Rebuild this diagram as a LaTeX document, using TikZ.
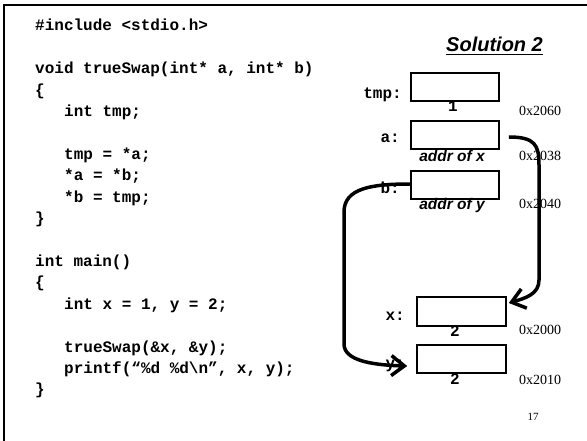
\documentclass[tikz,border=0pt]{standalone}
\usepackage{fontspec}
\setmainfont{Liberation Serif}
\setsansfont{Liberation Sans}
\setmonofont{Liberation Mono}
\usetikzlibrary{arrows.meta}
\tikzset{
  code/.style={font=\ttfamily\bfseries\fontsize{16}{19}\selectfont, anchor=base west, inner sep=0pt},
  lbl/.style={font=\ttfamily\bfseries\fontsize{16}{19}\selectfont, anchor=base east, inner sep=0pt},
  val/.style={font=\ttfamily\bfseries\fontsize{16}{19}\selectfont, anchor=base, inner sep=0pt},
  addrtxt/.style={font=\sffamily\bfseries\itshape\fontsize{15.5}{18}\selectfont, anchor=base, inner sep=0pt},
  hex/.style={font=\rmfamily\fontsize{14}{16}\selectfont, anchor=base west, inner sep=0pt},
  cell/.style={draw, line width=1.6pt, minimum width=88pt, minimum height=28pt, inner sep=0pt},
  ptr/.style={line width=3.5pt, -{Straight Barb[length=13pt,width=20pt]}},
}
\begin{document}
\begin{tikzpicture}[x=1pt,y=-1pt]
\useasboundingbox (0,0) rectangle (587,441);
\fill[white] (0,0) rectangle (587,441);
% frame
\coordinate (fr1) at (587,5);
\coordinate (fr2) at (4,5);
\coordinate (fr3) at (4,441);
\draw[line width=2.5pt] (fr1) -- (fr2) -- (fr3);
% code
\node[code] (c0) at (35,31) {\#include <stdio.h>};
\node[code] (c2) at (35,73.8) {void trueSwap(int* a, int* b)};
\node[code] (c3) at (35,95.2) {\{};
\node[code] (c4) at (64,116.6) {int tmp;};
\node[code] (c6) at (64,159.4) {tmp = *a;};
\node[code] (c7) at (64,180.8) {*a = *b;};
\node[code] (c8) at (64,202.2) {*b = tmp;};
\node[code] (c9) at (35,223.6) {\}};
\node[code] (c11) at (35,266.4) {int main()};
\node[code] (c12) at (35,287.8) {\{};
\node[code] (c13) at (64,309.2) {int x = 1, y = 2;};
\node[code] (c15) at (64,352) {trueSwap(\&x, \&y);};
\node[code] (c16) at (64,373.4) {printf(“\%d \%d\textbackslash n”, x, y);};
\node[code] (c17) at (35,394.8) {\}};
% title
\node[font=\sffamily\bfseries\itshape\fontsize{20}{24}\selectfont, anchor=base west, inner sep=0pt] (sol) at (446,51.7) {Solution 2};
\draw[line width=1.5pt] ([yshift=-2.6pt]sol.base west) -- ([yshift=-2.6pt]sol.base east);
% memory cells
\node[cell] (tmpb) at (455,87) {};
\node[cell] (ab) at (455,135) {};
\node[cell] (bb) at (455,185) {};
\node[cell, minimum width=89pt, minimum height=29pt] (xb) at (461.5,311.5) {};
\node[cell, minimum width=89pt] (yb) at (461.5,359) {};
% labels
\node[lbl] (ltmp) at (402,98.5) {tmp:};
\node[lbl] (la) at (400,143) {a:};
\node[lbl] (lb) at (400,194) {b:};
\node[lbl] (lx) at (405,320) {x:};
\node[lbl] (ly) at (405,368) {y:};
% values
\node[val] (v1) at (453,112) {1};
\node[addrtxt] (vax) at (452,161.7) {addr of x};
\node[addrtxt] (vay) at (452,209.5) {addr of y};
\node[val] (vx) at (455,336) {2};
\node[val] (vy) at (455,384) {2};
% addresses
\node[hex] (h1) at (519,115.7) {0x2060};
\node[hex] (h2) at (519,160.7) {0x2038};
\node[hex] (h3) at (519,208.3) {0x2040};
\node[hex] (h4) at (519,334) {0x2000};
\node[hex] (h5) at (519,384) {0x2010};
\node[font=\rmfamily\fontsize{11}{13}\selectfont, anchor=base, inner sep=0pt] (pg) at (533,420) {17};
% pointers
\draw[ptr] ([xshift=9pt,yshift=-2pt]ab.east) .. controls (535,137) and (539,145) .. (539,165) -- (539,280) .. controls (539,294) and (526,298) .. ([xshift=2pt,yshift=8.5pt]xb.east);
\draw[ptr] ([yshift=1pt]bb.west) .. controls (372,184) and (344,188) .. (344,212) -- (344,344) .. controls (344,360) and (370,365) .. ([xshift=-9pt,yshift=-7pt]yb.west);
\end{tikzpicture}
\end{document}
